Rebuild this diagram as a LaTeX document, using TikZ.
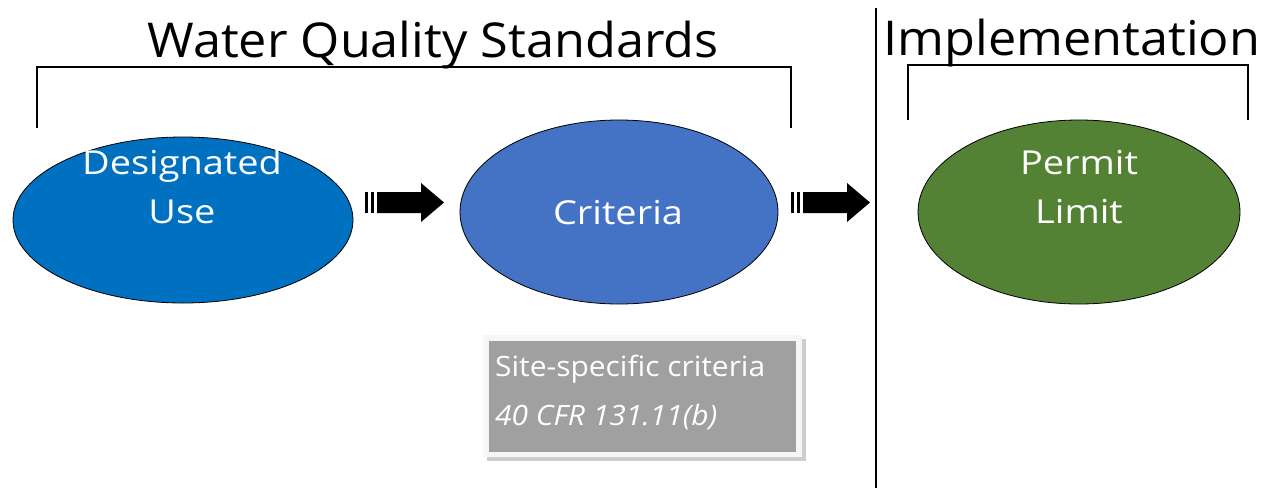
\documentclass[tikz,border=0pt]{standalone}
\usepackage{fontspec}
\setmainfont{Open Sans}
\usetikzlibrary{shapes.geometric}
\definecolor{duse}{RGB}{0,112,192}
\definecolor{crit}{RGB}{68,114,196}
\definecolor{perm}{RGB}{84,130,53}
\definecolor{boxg}{RGB}{160,160,160}
\definecolor{boxsh}{RGB}{205,205,205}
\definecolor{boxw}{RGB}{246,246,246}
\newcommand{\wideE}[1]{\scalebox{1.15}[1]{#1}}
\newcommand{\wideT}[1]{\scalebox{1.05}[1]{#1}}
\newcommand{\wideB}[1]{\scalebox{1.07}[1]{#1}}
\begin{document}
\begin{tikzpicture}[x=1pt,y=-1pt,
  elltext/.style={text=white, anchor=base, font=\fontsize{33}{40}\selectfont},
  titletext/.style={anchor=base, font=\fontsize{48}{56}\selectfont},
  boxtext/.style={anchor=base west, text=white, inner sep=0pt, font=\fontsize{28}{32}\selectfont},
  bracket/.style={line width=1.6pt, black},
  ellline/.style={line width=0.8pt, draw=black}]
\useasboundingbox (0,0) rectangle (1263,488);
% titles
\node[titletext] (t1) at (433,57) {\wideT{Water Quality Standards}};
\node[titletext] (t2) at (1072,55) {\wideT{Implementation}};
% brackets
\draw[bracket] (37,128) -- (37,67) -- (791,67) -- (791,128);
\draw[bracket] (908,120) -- (908,65) -- (1248,65) -- (1248,120);
% divider
\draw[line width=1.6pt] (876,8) -- (876,488);
% ellipses
\draw[ellline, fill=duse] (183,220) ellipse [x radius=170, y radius=83];
\node[elltext] (e1a) at (182,174) {\wideE{Designated}};
\node[elltext] (e1b) at (182,223) {\wideE{Use}};
\draw[ellline, fill=crit] (619,212) ellipse [x radius=159, y radius=92];
\node[elltext] (e2) at (618,224) {\wideE{Criteria}};
\draw[ellline, fill=perm] (1079,212) ellipse [x radius=161, y radius=92];
\node[elltext] (e3a) at (1079,174) {\wideE{Permit}};
\node[elltext] (e3b) at (1079,223) {\wideE{Limit}};
% arrows
\foreach \x in {365,791}{
  \fill (\x,192) rectangle ++(3,21);
  \fill (\x+6,192) rectangle ++(3,21);
  \fill (\x+12,192) -- (\x+56,192) -- (\x+56,183) -- (\x+79,202.5) -- (\x+56,222) -- (\x+56,213) -- (\x+12,213) -- cycle;
}
% gray box
\fill[boxsh] (487,339) rectangle (806,461);
\fill[boxw] (483,335) rectangle (802,457);
\fill[boxg] (489,341) rectangle (796,452);
\node[boxtext] (b1) at (495,376) {\wideB{Site-specific criteria}};
\node[boxtext, font=\fontsize{28}{32}\selectfont\itshape] (b2) at (495,425) {\wideB{40 CFR 131.11(b)}};
\end{tikzpicture}
\end{document}
